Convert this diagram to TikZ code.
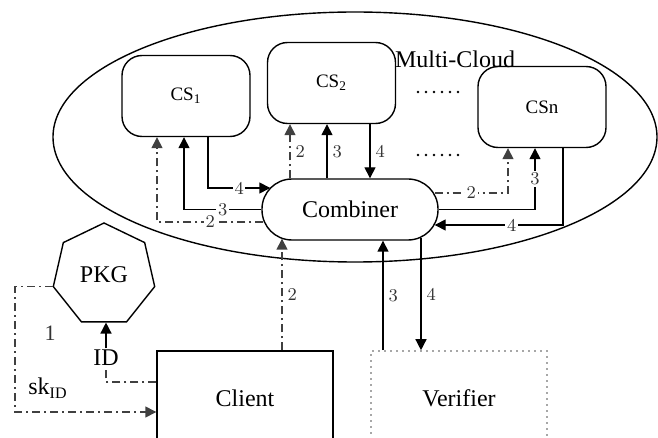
\documentclass[tikz,border=0pt]{standalone}
\usepackage{fontspec}
\newfontfamily\tms{Liberation Serif}
\usetikzlibrary{shapes.geometric,arrows.meta,calc}
\begin{document}
\begin{tikzpicture}[x=0.5pt,y=-0.5pt,
  line width=0.7pt,
  csbox/.style={draw, rounded corners=10pt, minimum width=64pt, minimum height=40.5pt, inner sep=0pt, font=\tms\fontsize{9.5}{11}\selectfont},
  combox/.style={draw, rounded corners=15pt, minimum width=88pt, minimum height=30.5pt, inner sep=0pt, font=\tms\fontsize{12}{14}\selectfont},
  plainbox/.style={draw, minimum width=88pt, minimum height=47pt, inner sep=0pt, font=\tms\fontsize{12}{14}\selectfont},
  dotbox/.style={draw=black!70, line width=0.8pt, dash pattern=on 0pt off 3pt, line cap=round, minimum width=88pt, minimum height=47pt, inner sep=0pt, font=\tms\fontsize{12}{14}\selectfont},
  pkgsty/.style={draw, regular polygon, regular polygon sides=7, minimum size=52pt, inner sep=0pt, font=\tms\fontsize{12}{14}\selectfont},
  txt/.style={inner sep=0.5pt, font=\tms\fontsize{12}{14}\selectfont},
  arr/.style={-{Triangle[length=5.5pt,width=5.5pt]}},
  dda/.style={draw=black!75, dash pattern=on 4pt off 2pt on 1pt off 2pt},
  lab/.style={fill=white, inner sep=0.8pt, text=black!80, font=\fontsize{9}{10}\selectfont},
  labr/.style={anchor=west, inner sep=0pt, xshift=2.5pt, text=black!80, font=\fontsize{9}{10}\selectfont},
  dotrow/.style={dash pattern=on 0pt off 4pt, line cap=round, line width=1.3pt}
]
\useasboundingbox (0,0) rectangle (658,438);
\clip (0,0) rectangle (658,438);

% cloud
\node[draw, ellipse, minimum width=302pt, minimum height=125pt, inner sep=0pt] (cloud) at (355,137) {};
\node[txt] (mc) at (455,59) {Multi-Cloud};

% servers
\node[csbox] (cs1) at (186,96) {CS\textsubscript{1}};
\node[csbox] (cs2) at (331.5,83) {CS\textsubscript{2}};
\node[csbox] (csn) at (542,107) {CSn};
\node[combox] (comb) at (350,209.5) {Combiner};

\coordinate (d1a) at (418,92); \coordinate (d1b) at (462,92);
\coordinate (d2a) at (418,155); \coordinate (d2b) at (462,155);
\draw[dotrow] (d1a) -- (d1b);
\draw[dotrow] (d2a) -- (d2b);

% lower entities
\node[pkgsty] (pkg) at (104,275) {PKG};
\node[plainbox] (client) at (245,398) {Client};
\node[dotbox] (verifier) at (459,398) {Verifier};
\node[txt] (idn) at (106,358) {ID};
\node[lab, fill=none, font=\tms\fontsize{11}{12}\selectfont] (one) at (50,333) {1};
\node[txt] (sk) at (48,388) {sk\textsubscript{ID}};

% CS1
\draw[arr] ($(cs1.south)+(22,0)$) |- ($(comb.west)+(9,-21.5)$) node[lab,pos=0.75]{4};
\draw[arr] (comb.west) -| ($(cs1.south)+(-2,0)$) node[lab,pos=0.25]{3};
\draw[dda,arr] ($(comb.west)+(2,12.5)$) -| ($(cs1.south)+(-29,0)$) node[lab,pos=0.25]{2};

% CS2
\draw[dda,arr] ($(comb.north)+(-60,0)$) -- ($(cs2.south)+(-41.5,0)$) node[labr,midway]{2};
\draw[arr] ($(comb.north)+(-23,0)$) -- ($(cs2.south)+(-4.5,0)$) node[labr,midway]{3};
\draw[arr] ($(cs2.south)+(38.5,0)$) -- ($(comb.north)+(20,0)$) node[labr,midway]{4};

% CSn
\draw[dda,arr] ($(comb.east)+(-4,-16.5)$) -| ($(csn.south)+(-34,0)$) node[lab,pos=0.25]{2};
\draw[arr] (comb.east) -| ($(csn.south)+(-7,0)$) node[lab,pos=0.75]{3};
\draw[arr] ($(csn.south)+(21,0)$) |- ($(comb.east)+(-4,15.5)$) node[lab,pos=0.7]{4};

% client / verifier
\draw[dda,arr] ($(client.north)+(37,0)$) -- ($(comb.south)+(-68,-2)$) node[labr,midway]{2};
\draw[arr] ($(verifier.north)+(-76,0)$) -- ($(comb.south)+(33,0)$) node[labr,midway]{3};
\draw[arr] ($(comb.south)+(71,-3)$) -- ($(verifier.north)+(-38,0)$) node[labr,midway]{4};

% PKG
\draw[dda] ($(client.west)+(0,-16)$) -| (idn.south);
\draw[arr] (idn.north) -- (idn.north |- pkg.south);
\coordinate (skc) at (15,412);
\draw[dda,arr] (pkg.corner 3) -| (skc) -- (skc -| client.west);
\end{tikzpicture}
\end{document}
